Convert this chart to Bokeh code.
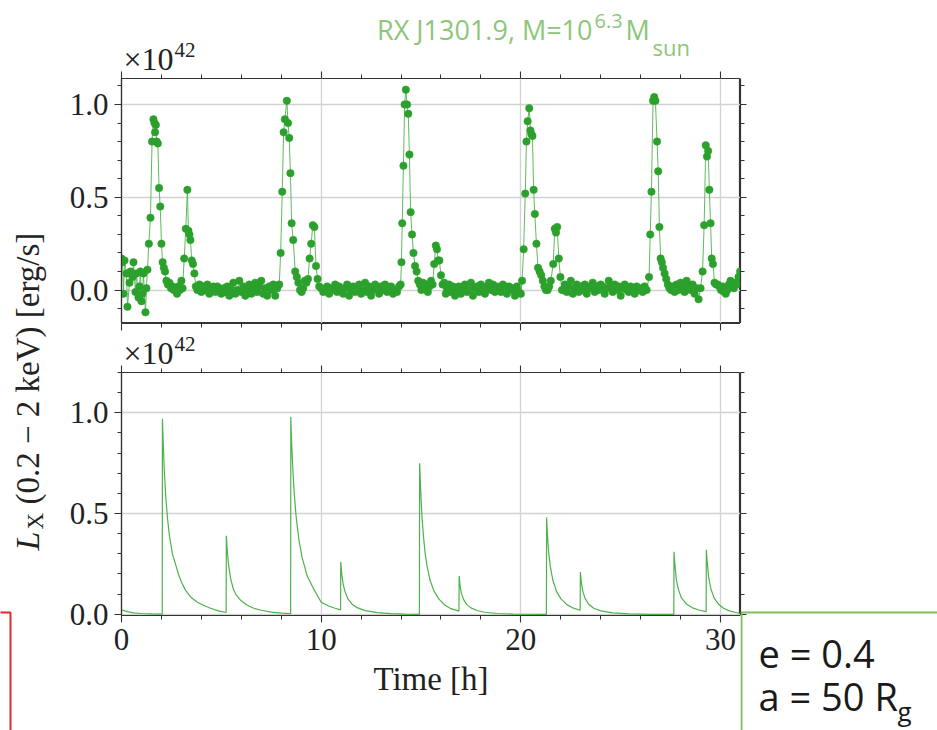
from bokeh.plotting import figure
from bokeh.layouts import row, column
from bokeh.models import (Range1d, LinearAxis, SingleIntervalTicker, PrintfTickFormatter,
                          CustomJSTickFormatter, Label, PolyAnnotation)
from bokeh.embed import file_html
from bokeh.resources import INLINE
import math

# ---------------- data (luminosity in units of 1e42 erg/s, time in hours) ----------------
t_obs = [
    0.00, 0.05, 0.10, 0.15, 0.25, 0.30, 0.40, 0.45, 0.55, 0.60, 0.70, 0.75, 0.85, 0.90, 0.95, 1.00, 1.05, 1.10, 1.20, 1.25, 1.30,
    1.37, 1.45, 1.53, 1.60, 1.65, 1.68, 1.72, 1.76, 1.82, 1.88, 1.94, 2.00, 2.06, 2.12, 2.18, 2.25, 2.32, 2.40, 2.48, 2.55, 2.62, 2.70, 2.78, 2.85, 2.92, 3.00, 3.06,
    3.14, 3.22, 3.30, 3.35, 3.40, 3.45, 3.52, 3.58, 3.65, 3.72, 3.80,
    3.9, 4.0, 4.1, 4.2, 4.3, 4.4, 4.5, 4.6, 4.7, 4.8, 4.9, 5.0, 5.1, 5.2, 5.3, 5.4, 5.5, 5.6, 5.7, 5.8, 5.9,
    6.0, 6.1, 6.2, 6.3, 6.4, 6.5, 6.6, 6.7, 6.8, 6.9, 7.0, 7.1, 7.2, 7.3, 7.4, 7.5, 7.6, 7.7, 7.8, 7.9,
    7.97, 8.05, 8.12, 8.18, 8.28, 8.34, 8.40, 8.46, 8.52, 8.60, 8.70, 8.78, 8.86, 8.94, 9.02, 9.10, 9.18, 9.26, 9.34, 9.42, 9.50, 9.58, 9.66, 9.74, 9.82, 9.90,
    10.0, 10.1, 10.2, 10.3, 10.4, 10.5, 10.6, 10.7, 10.8, 10.9, 11.0, 11.1, 11.2, 11.3, 11.4, 11.5, 11.6, 11.7, 11.8, 11.9,
    12.0, 12.1, 12.2, 12.3, 12.4, 12.5, 12.6, 12.7, 12.8, 12.9, 13.0, 13.1, 13.2, 13.3, 13.4, 13.5, 13.6, 13.7, 13.8, 13.9,
    13.98, 14.02, 14.06, 14.12, 14.18, 14.24, 14.30, 14.36, 14.42, 14.48, 14.55, 14.62, 14.70, 14.78, 14.86, 14.94, 15.02, 15.10, 15.18, 15.26, 15.34, 15.42, 15.50, 15.58,
    15.66, 15.74, 15.80, 15.86, 15.92, 16.00, 16.08, 16.16, 16.24,
    16.3, 16.4, 16.5, 16.6, 16.7, 16.8, 16.9, 17.0, 17.1, 17.2, 17.3, 17.4, 17.5, 17.6, 17.7, 17.8, 17.9,
    18.0, 18.1, 18.2, 18.3, 18.4, 18.5, 18.6, 18.7, 18.8, 18.9, 19.0, 19.1, 19.2, 19.3, 19.4, 19.5, 19.6, 19.7, 19.8, 19.9, 20.0,
    20.06, 20.14, 20.22, 20.28, 20.34, 20.42, 20.48, 20.53, 20.58, 20.64, 20.70, 20.78, 20.86, 20.94, 21.02, 21.10, 21.18, 21.26, 21.34, 21.42, 21.50,
    21.62, 21.70, 21.76, 21.82, 21.90, 21.98, 22.06, 22.14,
    22.2, 22.3, 22.4, 22.5, 22.6, 22.7, 22.8, 22.9, 23.0, 23.1, 23.2, 23.3, 23.4, 23.5, 23.6, 23.7, 23.8, 23.9,
    24.0, 24.1, 24.2, 24.3, 24.4, 24.5, 24.6, 24.7, 24.8, 24.9, 25.0, 25.1, 25.2, 25.3, 25.4, 25.5, 25.6, 25.7, 25.8, 25.9,
    26.0, 26.1, 26.2, 26.3,
    26.42, 26.48, 26.54, 26.62, 26.68, 26.74, 26.82, 26.88, 26.94, 27.00, 27.06, 27.12, 27.20, 27.28, 27.36, 27.44, 27.52,
    27.6, 27.7, 27.8, 27.9, 28.0, 28.1, 28.2, 28.3, 28.4, 28.5, 28.6, 28.7, 28.8, 28.9, 29.0,
    29.10, 29.18, 29.26, 29.32, 29.38, 29.44, 29.50, 29.56, 29.62, 29.70, 29.78, 29.86, 29.94, 30.02, 30.10, 30.18, 30.26, 30.34,
    30.42, 30.50, 30.58, 30.66, 30.74, 30.82, 30.90, 30.98,
]
L_obs = [
    0.17, 0.15, -0.02, 0.16, 0.09, -0.09, 0.04, 0.10, 0.07, 0.15, -0.01, 0.09, -0.04, 0.02, 0.10, -0.06, -0.02, 0.09, -0.12, 0.01, 0.11,
    0.25, 0.39, 0.80, 0.92, 0.90, 0.85, 0.89, 0.80, 0.79, 0.55, 0.45, 0.25, 0.15, 0.12, 0.10, 0.05, 0.03, 0.04, 0.01, 0.02, 0.00, 0.01, -0.02, 0.02, 0.00, 0.05, 0.01,
    0.17, 0.33, 0.54, 0.32, 0.30, 0.27, 0.16, 0.14, 0.09, 0.02, 0.00,
    0.03, -0.01, 0.02, 0.00, 0.03, -0.02, 0.01, 0.02, -0.01, 0.02, 0.00, -0.02, 0.01, -0.01, 0.02, -0.03, 0.00, 0.04, -0.02, 0.00, 0.05,
    -0.01, 0.02, -0.03, 0.00, 0.03, -0.02, 0.01, 0.04, -0.01, 0.02, 0.05, -0.02, 0.01, -0.03, 0.02, 0.00, 0.03, -0.03, 0.01, 0.03,
    0.20, 0.53, 0.85, 0.92, 1.02, 0.90, 0.82, 0.63, 0.36, 0.27, 0.10, 0.07, 0.04, 0.00, -0.01, 0.01, 0.05, 0.04, 0.06, 0.17, 0.25, 0.35, 0.34, 0.13, 0.06, 0.02,
    0.01, -0.01, 0.00, 0.02, -0.02, 0.01, 0.00, 0.03, -0.01, 0.02, 0.00, -0.02, 0.01, 0.03, -0.03, 0.00, 0.02, -0.01, 0.01, 0.03,
    -0.02, 0.00, 0.04, -0.01, 0.02, -0.03, 0.00, 0.03, 0.01, -0.02, 0.02, 0.00, 0.03, -0.01, 0.01, 0.02, -0.02, 0.00, -0.01, 0.02,
    0.03, 0.15, 0.36, 0.67, 1.00, 1.08, 1.00, 0.95, 0.73, 0.42, 0.30, 0.20, 0.13, 0.10, 0.05, 0.03, 0.00, 0.04, 0.01, 0.03, -0.01, 0.02, 0.05, 0.03,
    0.14, 0.24, 0.22, 0.16, 0.16, 0.08, 0.03, 0.04, -0.02,
    0.01, 0.03, -0.01, 0.02, -0.03, 0.00, 0.02, -0.02, 0.01, 0.03, -0.01, 0.00, 0.04, -0.03, 0.01, 0.02, -0.01,
    0.03, 0.00, -0.02, 0.02, 0.04, 0.00, 0.03, -0.01, 0.02, 0.01, -0.01, 0.03, 0.02, -0.02, 0.02, 0.00, 0.01, -0.03, 0.02, -0.01, -0.02,
    0.05, 0.22, 0.52, 0.80, 0.91, 0.98, 0.86, 0.84, 0.83, 0.54, 0.41, 0.25, 0.12, 0.10, 0.08, 0.05, 0.02, 0.00, 0.00, 0.02, 0.05,
    0.14, 0.33, 0.31, 0.34, 0.17, 0.07, 0.00, 0.00,
    0.03, -0.01, 0.02, 0.05, -0.02, 0.01, 0.03, -0.01, 0.02, 0.00, 0.03, -0.02, 0.02, 0.01, 0.04, -0.01, 0.02, 0.00,
    0.03, 0.02, -0.02, 0.01, 0.05, 0.02, -0.01, 0.03, 0.00, 0.02, -0.03, 0.01, 0.03, 0.00, -0.01, 0.02, 0.01, -0.02, 0.02, 0.00,
    0.01, -0.01, 0.02, 0.00,
    0.07, 0.30, 0.53, 1.02, 1.04, 1.02, 0.80, 0.64, 0.34, 0.17, 0.15, 0.12, 0.09, 0.06, 0.03, 0.01, 0.00,
    0.02, -0.01, 0.03, 0.00, 0.04, 0.02, -0.01, 0.05, 0.02, 0.00, 0.03, -0.02, 0.01, -0.05, 0.01,
    0.10, 0.35, 0.78, 0.72, 0.75, 0.54, 0.36, 0.17, 0.14, 0.04, 0.03, 0.03, 0.02, 0.00, 0.02, -0.01, -0.02, 0.00,
    0.03, 0.05, 0.02, 0.01, 0.04, 0.03, 0.07, 0.10,
]

t_model = [
    0.0, 0.3, 0.6, 1.0, 1.5, 2.04,
    2.05, 2.10, 2.15, 2.22, 2.30, 2.40, 2.55, 2.70, 2.85, 3.00, 3.20, 3.46, 3.80, 4.10, 4.46, 4.90, 5.24,
    5.25, 5.30, 5.37, 5.46, 5.60, 5.75, 5.96, 6.30, 6.63, 7.00, 7.50, 8.00, 8.47,
    8.48, 8.52, 8.58, 8.65, 8.75, 8.90, 9.05, 9.30, 9.60, 10.00, 10.40, 10.70, 10.97,
    10.98, 11.03, 11.10, 11.20, 11.35, 11.55, 11.80, 12.20, 12.80, 13.50, 14.20, 14.92,
    14.93, 14.98, 15.05, 15.12, 15.20, 15.30, 15.45, 15.65, 15.90, 16.20, 16.50, 16.90,
    16.91, 16.96, 17.03, 17.15, 17.30, 17.50, 17.80, 18.20, 18.80, 19.60, 21.28,
    21.29, 21.34, 21.40, 21.48, 21.60, 21.78, 22.00, 22.30, 22.60, 22.97,
    22.98, 23.03, 23.10, 23.22, 23.40, 23.65, 24.00, 24.60, 25.40, 26.50, 27.66,
    27.67, 27.72, 27.79, 27.90, 28.05, 28.30, 28.60, 28.95, 29.28,
    29.29, 29.34, 29.41, 29.52, 29.68, 29.90, 30.15, 30.45, 30.75, 31.0,
]
L_model = [
    0.022, 0.013, 0.007, 0.004, 0.002, 0.001,
    0.97, 0.82, 0.70, 0.58, 0.48, 0.39, 0.30, 0.25, 0.20, 0.16, 0.12, 0.086, 0.06, 0.045, 0.03, 0.016, 0.009,
    0.39, 0.31, 0.24, 0.18, 0.125, 0.095, 0.07, 0.045, 0.03, 0.02, 0.011, 0.006, 0.003,
    0.98, 0.85, 0.72, 0.60, 0.48, 0.36, 0.28, 0.19, 0.13, 0.06, 0.04, 0.03, 0.022,
    0.26, 0.20, 0.15, 0.11, 0.075, 0.05, 0.033, 0.018, 0.008, 0.003, 0.001, 0.0,
    0.75, 0.62, 0.48, 0.39, 0.31, 0.24, 0.17, 0.115, 0.075, 0.045, 0.028, 0.016,
    0.19, 0.14, 0.10, 0.07, 0.048, 0.032, 0.019, 0.01, 0.004, 0.001, 0.0,
    0.48, 0.38, 0.30, 0.235, 0.17, 0.115, 0.078, 0.048, 0.032, 0.02,
    0.21, 0.16, 0.115, 0.078, 0.05, 0.03, 0.017, 0.007, 0.002, 0.0, 0.0,
    0.31, 0.24, 0.17, 0.12, 0.08, 0.05, 0.032, 0.02, 0.013,
    0.32, 0.25, 0.18, 0.125, 0.08, 0.05, 0.03, 0.017, 0.009, 0.005,
]

title_main = "RX J1301.9, M=10"
title_sup = "6.3"
title_m = "M"
title_sub = "sun"
offset_base = "\u00d710"
offset_exp = "42"
ylabel_L = "L"
ylabel_sub = "X"
ylabel_rest = "(0.2 \u2212 2 keV) [erg/s]"
xlabel = "Time [h]"
param_e = "e = 0.4"
param_a = "a = 50 R"
param_a_sub = "g"

# ---------------- style ----------------
AX = "#333333"
SERIF = "Liberation Serif"
SANS = "Open Sans"
GREEN = "#2ca02c"
TITLE_GREEN = "#8dc67a"
TXT = "#222222"
PW = 685  # panel column: page x 55..740; frames span page x 121..740
Y_TOP = (-0.18, 1.14)
Y_BOT = (-0.006, 1.2)


def style_axis(ax, labels=True, tick_out=7, minor_out=4, tick_in=0, minor_in=0):
    ax.axis_line_color = AX
    ax.axis_line_width = 1.2
    ax.major_tick_line_color = AX
    ax.minor_tick_line_color = AX
    ax.major_tick_in = tick_in
    ax.major_tick_out = tick_out
    ax.minor_tick_in = minor_in
    ax.minor_tick_out = minor_out
    ax.major_tick_line_width = 1.1
    ax.minor_tick_line_width = 1.0
    if labels:
        ax.major_label_text_font = SERIF
        ax.major_label_text_font_size = "31px"
        ax.major_label_text_color = TXT
        ax.major_label_standoff = 6
    else:
        ax.formatter = CustomJSTickFormatter(code="return ''")
        ax.major_label_text_font_size = "0px"
        ax.major_label_standoff = 0


def xt():
    return SingleIntervalTicker(interval=10, num_minor_ticks=5)


def yt():
    return SingleIntervalTicker(interval=0.5, num_minor_ticks=5)


def lab(p, x, y, text, size, color, font, style="normal", align="left", angle=0.0, baseline="alphabetic"):
    p.add_layout(Label(x=x, y=y, x_units="screen", y_units="screen", text=text,
                       text_font=font, text_font_size=f"{size}px", text_color=color,
                       text_font_style=style, text_align=align, text_baseline=baseline,
                       angle=angle))


def plab(p, fx0, fy0, px, py, text, size, color, font, style="normal", align="left"):
    """Place a label by the page position of its baseline start (frame origin fx0, fy0)."""
    lab(p, px - fx0, fy0 - py + 0.38 * size, text, size, color, font, style=style, align=align)


def blank(width, height):
    b = figure(width=width, height=height, x_range=Range1d(0, 1), y_range=Range1d(0, 1),
               toolbar_location=None, output_backend="svg",
               x_axis_type=None, y_axis_type=None, min_border=0)
    b.outline_line_color = None
    return b


def tick_strip(height, locations):
    """A strip that carries the outward time ticks of the neighbouring panel edges."""
    h = figure(width=PW, height=height, x_range=Range1d(0, 31), y_range=Range1d(0, 1),
               toolbar_location=None, output_backend="svg",
               x_axis_location=None, y_axis_type=None, min_border=0)
    h.outline_line_color = None
    h.grid.visible = False
    for loc in locations:
        ax = LinearAxis(ticker=xt())
        style_axis(ax, False, tick_out=0, minor_out=0, tick_in=7, minor_in=4)
        h.add_layout(ax, loc)
    return h


def side_ticks(height, yr, bounds):
    """A strip right of a panel carrying its outward luminosity ticks."""
    s = figure(width=197, height=height, x_range=Range1d(0, 1), y_range=Range1d(*yr),
               toolbar_location=None, output_backend="svg",
               x_axis_type=None, y_axis_location=None, min_border=0)
    s.outline_line_color = None
    s.grid.visible = False
    ax = LinearAxis(ticker=yt(), bounds=bounds)
    style_axis(ax, False, tick_out=0, minor_out=0, tick_in=6, minor_in=4)
    s.add_layout(ax, "left")
    return s


def panel(height, mbot, yr, with_xaxis):
    p = figure(width=PW, height=height, x_range=Range1d(0, 31), y_range=Range1d(*yr),
               toolbar_location=None, output_backend="svg",
               x_axis_location="below" if with_xaxis else None,
               min_border_left=66, min_border_right=0, min_border_top=0, min_border_bottom=mbot)
    p.outline_line_color = AX
    p.outline_line_width = 1.2
    ya = p.left[0]
    ya.ticker = yt()
    style_axis(ya, True)
    ya.formatter = PrintfTickFormatter(format="%.1f")
    if with_xaxis:
        xa = p.below[0]
        xa.ticker = xt()
        style_axis(xa, True)
        xa.formatter = PrintfTickFormatter(format="%d")
    p.xgrid.ticker = SingleIntervalTicker(interval=10)
    p.ygrid.ticker = SingleIntervalTicker(interval=0.5)
    p.grid.grid_line_color = "#d2d2d2"
    p.grid.grid_line_width = 1.3
    return p


# ---------------- header (title, offset text, top ticks of upper panel): page y 0..78 ----------------
header = tick_strip(78, ["below"])
HX, HY = 121, 78
plab(header, HX, HY, 592, 39.5, title_main, 27, TITLE_GREEN, SANS, align="right")
plab(header, HX, HY, 594, 28.5, title_sup, 20, TITLE_GREEN, SANS)
plab(header, HX, HY, 625, 39.5, title_m, 27, TITLE_GREEN, SANS)
plab(header, HX, HY, 652, 55, title_sub, 22, TITLE_GREEN, SANS)
plab(header, HX, HY, 123, 71, offset_base, 32, TXT, SERIF)
plab(header, HX, HY, 174, 57, offset_exp, 21, TXT, SERIF)

# ---------------- upper panel: page y 78..323 ----------------
top = panel(245, 0, Y_TOP, False)
top.line(t_obs, L_obs, line_color="#4fb24f", line_width=1.0, line_alpha=0.9)
top.scatter(t_obs, L_obs, size=7.5, fill_color=GREEN, line_color=GREEN, line_width=0.5)

# ---------------- middle strip (ticks of both panels + offset text): page y 323..372 ----------------
mid = tick_strip(49, ["above", "below"])
MY = 372
plab(mid, HX, MY, 123, 365, offset_base, 32, TXT, SERIF)
plab(mid, HX, MY, 174, 351, offset_exp, 21, TXT, SERIF)

# ---------------- lower panel: page y 372..730 (frame 372..615) ----------------
bot = panel(358, 115, Y_BOT, True)
bot.line(t_model, L_model, line_color="#3aa83a", line_width=1.2, line_alpha=0.9)
xa = bot.below[0]
xa.axis_label = xlabel
xa.axis_label_text_font = SERIF
xa.axis_label_text_font_size = "33px"
xa.axis_label_text_font_style = "normal"
xa.axis_label_text_color = TXT
xa.axis_label_standoff = 8

# ---------------- right column: page x 740..937 ----------------
r_head = blank(197, 78)
r_top = side_ticks(245, Y_TOP, Y_TOP)
r_mid = blank(197, 49)
# lower part spans page y 372..730; its scale matches the lower panel (243 px for 1.206 units)
bot_ext = Y_BOT[1] - (Y_BOT[1] - Y_BOT[0]) * 358 / 243
r_bot = side_ticks(358, (bot_ext, Y_BOT[1]), Y_BOT)
RX0, RY0 = 740, 730
r_bot.add_layout(PolyAnnotation(xs=[1, 400, 400, 1], ys=[118, 118, -50, -50],
                                xs_units="screen", ys_units="screen",
                                fill_alpha=0, line_color="#7dbf5e", line_alpha=1.0, line_width=2))
plab(r_bot, RX0, RY0, 758, 667, param_e, 38, "#1a1a1a", SANS)
plab(r_bot, RX0, RY0, 758, 710, param_a, 38, "#1a1a1a", SANS)
plab(r_bot, RX0, RY0, 897, 720, param_a_sub, 26, "#1a1a1a", SANS)

# ---------------- left strip with the shared y label: page x 0..55 ----------------
strip = blank(55, 730)
strip.add_layout(PolyAnnotation(xs=[-20, 10, 10, -20], ys=[118, 118, -20, -20],
                                xs_units="screen", ys_units="screen",
                                fill_alpha=0, line_color="#e3262c", line_alpha=1.0, line_width=2))
A = math.pi / 2
lab(strip, 27, 180, ylabel_L, 34, TXT, SERIF, style="italic", angle=A, baseline="middle")
lab(strip, 35, 201, ylabel_sub, 23, TXT, SERIF, angle=A, baseline="middle")
lab(strip, 27, 226, ylabel_rest, 33, TXT, SERIF, angle=A, baseline="middle")

layout = row(strip, column(header, top, mid, bot), column(r_head, r_top, r_mid, r_bot))
open("out.html", "w").write(file_html(layout, INLINE))
